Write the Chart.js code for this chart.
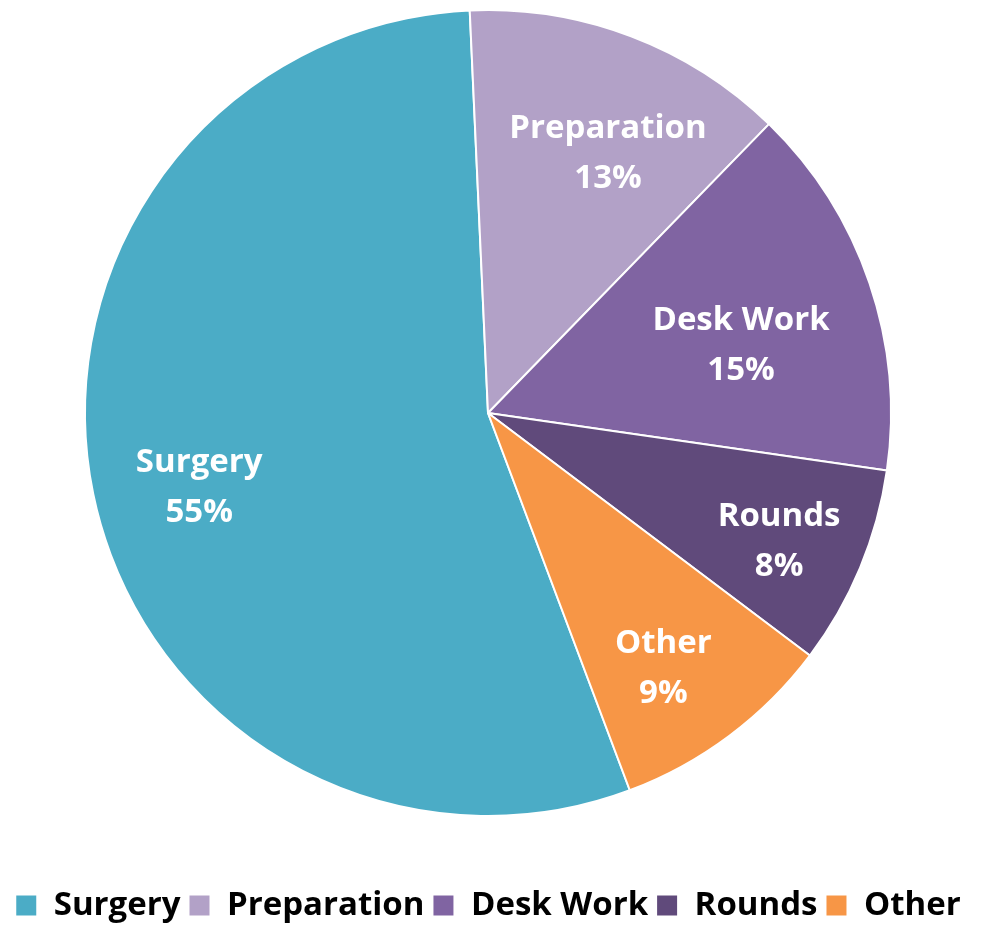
<!DOCTYPE html>
<html>
<head>
<meta charset="utf-8">
<script src="https://cdn.jsdelivr.net/npm/chart.js@4.4.0/dist/chart.umd.min.js"></script>
<style>
  html, body { margin: 0; padding: 0; background: #fff; }
  #wrap { width: 989px; height: 925px; }
</style>
</head>
<body>
<div id="wrap"><canvas id="myChart"></canvas></div>
<script>
// slice data, legend order
const categories = ['Surgery', 'Preparation', 'Desk Work', 'Rounds', 'Other'];
const percents = [55, 13, 15, 8, 9];
const colors = ['#4BACC6', '#B2A1C7', '#8064A2', '#604A7B', '#F79646'];

// where each in-slice label sits: fraction of radius, and nudge off the mid angle (deg)
const labelDist = [0.74, 0.71, 0.65, 0.79, 0.77];
const labelNudge = [-2.8, 4, 3.8, 1.3, 2.4];

const sliceLabels = {
    id: 'sliceLabels',
    afterLayout(chart) {
        // pie sits higher than chart.js would put it, keep it 826px tall
        chart.chartArea.bottom = chart.chartArea.top + 826;
        chart.chartArea.height = 826;
        // legend row hugs the bottom edge
        chart.legend.top += 7;
        chart.legend.bottom += 7;
    },
    afterDatasetsDraw(chart) {
        const ctx = chart.ctx;
        const arcs = chart.getDatasetMeta(0).data;
        ctx.save();
        ctx.fillStyle = '#fff';
        ctx.font = 'bold 33px "Open Sans"';
        ctx.textAlign = 'center';
        ctx.textBaseline = 'middle';
        arcs.forEach((arc, i) => {
            const mid = (arc.startAngle + arc.endAngle) / 2 + labelNudge[i] * Math.PI / 180;
            const r = arc.outerRadius * labelDist[i];
            const x = arc.x + Math.cos(mid) * r;
            const y = arc.y + Math.sin(mid) * r;
            ctx.fillText(categories[i], x, y - 25);
            ctx.fillText(percents[i] + '%', x, y + 25);
        });
        ctx.restore();
    }
};

window.onload = function () {
    let myChart = document.getElementById('myChart').getContext('2d');
    new Chart(myChart, {
        type: 'pie',
        data: {
            labels: categories,
            datasets: [{ data: percents, backgroundColor: colors, borderColor: '#fff', borderWidth: 2, radius: 403 }]
        },
        options: {
            responsive: true, maintainAspectRatio: false, animation: false,
            rotation: 159.4,
            layout: { padding: { top: 0, right: 13, left: 0, bottom: 0 } },
            plugins: {
                tooltip: { enabled: false },
                legend: {
                    position: 'bottom',
                    labels: { boxWidth: 22, boxHeight: 22, padding: 8, color: '#000', font: { family: 'Open Sans', size: 33, weight: 'bold' } }
                }
            }
        },
        plugins: [sliceLabels]
    });
};
</script>
</body>
</html>
